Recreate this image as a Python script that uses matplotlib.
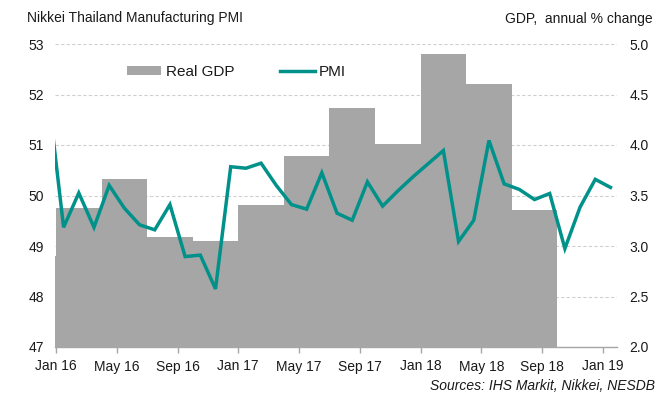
import matplotlib
matplotlib.use("Agg")
import matplotlib.pyplot as plt
import numpy as np

plt.rcParams['font.family'] = ['Liberation Sans', 'DejaVu Sans']

# ---- data ----
# month index: 0 = Jan 2016
tick_labels = ["Jan 16", "May 16", "Sep 16", "Jan 17", "May 17",
               "Sep 17", "Jan 18", "May 18", "Sep 18", "Jan 19"]
tick_months = [0, 4, 8, 12, 16, 20, 24, 28, 32, 36]

# quarterly real GDP, annual % change (Q4 2015 .. Q3 2018)
gdp_quarter_start = [-3, 0, 3, 6, 9, 12, 15, 18, 21, 24, 27, 30]
gdp_values = [2.90, 3.38, 3.66, 3.09, 3.05, 3.41, 3.89, 4.37, 4.01, 4.90, 4.60, 3.36]

# monthly PMI (Dec 2015 .. Jan 2019), plotted mid-month
pmi_values = [51.95,
              49.37, 50.05, 49.37, 50.20, 49.75, 49.42, 49.32, 49.82, 48.79, 48.82, 48.15, 50.57,
              50.54, 50.64, 50.20, 49.82, 49.73, 50.45, 49.65, 49.51, 50.27, 49.79, 50.09, 50.37,
              50.63, 50.89, 49.09, 49.51, 51.09, 50.23, 50.12, 49.92, 50.04, 48.95, 49.77, 50.32,
              50.16]
pmi_months = [m + 0.5 for m in range(-1, len(pmi_values) - 1)]

# ---- styling ----
bar_color = "#A6A6A6"
line_color = "#00928A"
text_color = "#1a1a1a"

fig = plt.figure(figsize=(6.68, 3.94), dpi=100)
ax_gdp = fig.add_axes([55/668, 1-347/394, (617-55)/668, (347-44)/394])
ax_pmi = ax_gdp.twinx()

# GDP bars (right axis)
ax_gdp.bar(gdp_quarter_start, gdp_values, width=3, align='edge',
           color=bar_color, edgecolor='none', zorder=2, label="Real GDP")
ax_gdp.set_ylim(2.0, 5.0)
ax_gdp.set_yticks(np.arange(2.0, 5.01, 0.5))
ax_gdp.set_yticklabels([f"{v:.1f}" for v in np.arange(2.0, 5.01, 0.5)])
ax_gdp.yaxis.tick_right()
ax_gdp.set_axisbelow(True)
ax_gdp.grid(axis='y', linestyle=(0, (3, 2)), color="#D0D0D0", linewidth=0.8, zorder=0)

# PMI line (left axis)
ax_pmi.plot(pmi_months, pmi_values, color=line_color, linewidth=2.5,
            solid_joinstyle='miter', label="PMI", zorder=3)
ax_pmi.set_ylim(47, 53)
ax_pmi.set_yticks(range(47, 54))
ax_pmi.yaxis.tick_left()

ax_gdp.set_xlim(-0.066, 36.93)
ax_gdp.set_xticks(tick_months)
ax_gdp.set_xticklabels(tick_labels)

for a in (ax_gdp, ax_pmi):
    for s in a.spines.values():
        s.set_visible(False)
    a.tick_params(axis='y', length=0, labelsize=10, colors=text_color)
ax_gdp.spines['bottom'].set_visible(True)
ax_gdp.spines['bottom'].set_color("#A6A6A6")
ax_gdp.spines['bottom'].set_linewidth(1.0)
ax_gdp.tick_params(axis='x', length=4, width=1, color="#A6A6A6",
                   labelsize=10, labelcolor=text_color, pad=5)
ax_gdp.tick_params(axis='y', pad=9)
ax_pmi.tick_params(axis='y', pad=8)

# titles
fig.text(27/668, 1-18/394, "Nikkei Thailand Manufacturing PMI", fontsize=10,
         color=text_color, ha='left', va='center')
fig.text(653/668, 1-19/394, "GDP,  annual % change", fontsize=10,
         color=text_color, ha='right', va='center')
fig.text(655/668, 1-386/394, "Sources: IHS Markit, Nikkei, NESDB", fontsize=10,
         style='italic', color=text_color, ha='right', va='center')

# legend
h1, l1 = ax_gdp.get_legend_handles_labels()
h2, l2 = ax_pmi.get_legend_handles_labels()
leg = fig.legend(h1 + h2, l1 + l2, ncol=2, frameon=False, fontsize=11,
                 loc='center left', bbox_to_anchor=(127/668, 1-72/394),
                 bbox_transform=fig.transFigure, borderpad=0, borderaxespad=0,
                 handlelength=2.25, handleheight=0.55, handletextpad=0.3,
                 columnspacing=3.0)
for t in leg.get_texts():
    t.set_color(text_color)

fig.savefig("out.png", dpi=100)
